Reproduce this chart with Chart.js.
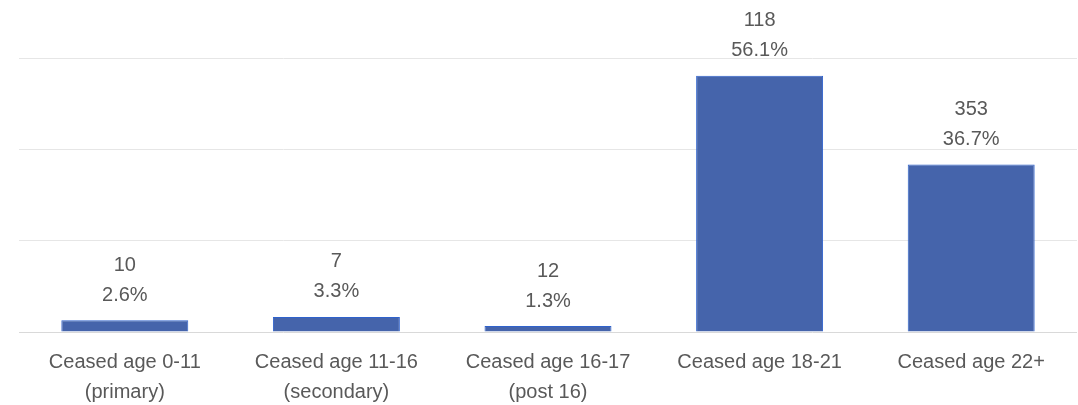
<!DOCTYPE html>
<html>
<head>
<meta charset="utf-8">
<script src="https://cdn.jsdelivr.net/npm/chart.js@4/dist/chart.umd.min.js"></script>
<style>
  html, body { margin: 0; padding: 0; background: #ffffff; }
  #wrap { width: 1078px; height: 405px; position: relative; }
</style>
</head>
<body>
<div id="wrap"><canvas id="chart-canvas"></canvas></div>
<script>
// categories (two-line labels) and values
const categories = [
    ['Ceased age 0-11', '(primary)'],
    ['Ceased age 11-16', '(secondary)'],
    ['Ceased age 16-17', '(post 16)'],
    ['Ceased age 18-21'],
    ['Ceased age 22+']
];
const percentages = [2.6, 3.3, 1.3, 56.1, 36.7];
const counts = [10, 7, 12, 118, 353];
const yTicks = [0, 20, 40, 60];

const textColor = '#595959';
const fontFamily = "'Liberation Sans', Arial, sans-serif";

// I draw the count and the percentage above each bar
const barLabels = {
    id: 'barLabels',
    afterDatasetsDraw(chart) {
        const ctx = chart.ctx;
        const meta = chart.getDatasetMeta(0);
        ctx.save();
        ctx.fillStyle = textColor;
        ctx.font = '20px ' + fontFamily;
        ctx.textAlign = 'center';
        ctx.textBaseline = 'middle';
        meta.data.forEach((bar, i) => {
            ctx.fillText(String(counts[i]), bar.x, bar.y - 55);
            ctx.fillText(percentages[i].toFixed(1) + '%', bar.x, bar.y - 25);
        });
        ctx.restore();
    }
};

new Chart(document.getElementById('chart-canvas'), {
    type: 'bar',
    data: {
        labels: categories,
        datasets: [{
            data: percentages,
            backgroundColor: '#4564ab',
            borderColor: '#2f62cc',
            borderWidth: 1,
            barPercentage: 0.6,
            categoryPercentage: 1.0
        }]
    },
    options: {
        responsive: true,
        maintainAspectRatio: false,
        animation: false,
        layout: { padding: { left: 19, right: 1, top: 58, bottom: 0 } },
        plugins: {
            legend: { display: false },
            tooltip: { enabled: false }
        },
        scales: {
            y: {
                min: 0,
                max: 60,
                afterBuildTicks: axis => { axis.ticks = yTicks.map(v => ({ value: v })); },
                ticks: { display: false },
                border: { display: false },
                grid: {
                    color: ctx => ctx.tick.value === 0 ? '#d9d9d9' : '#e6e6e6',
                    lineWidth: 1,
                    drawTicks: false
                }
            },
            x: {
                border: { display: false },
                grid: { display: false },
                afterFit: axis => { axis.height = 73; },
                ticks: {
                    color: textColor,
                    font: { size: 20, family: fontFamily, lineHeight: 1.5 },
                    padding: 7,
                    maxRotation: 0,
                    autoSkip: false
                }
            }
        }
    },
    plugins: [barLabels]
});
</script>
</body>
</html>
